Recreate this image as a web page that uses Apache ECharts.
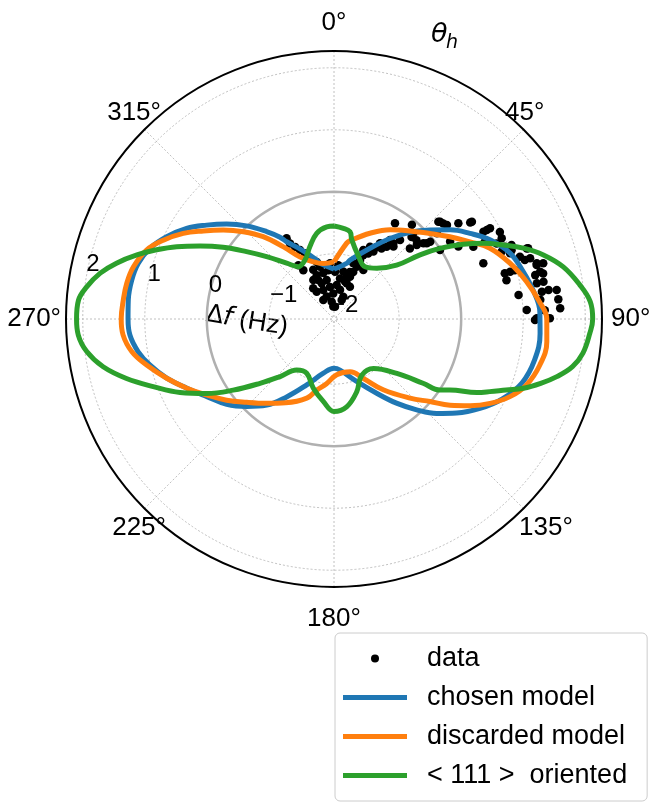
<!DOCTYPE html>
<html>
<head>
<meta charset="utf-8">
<script src="https://cdn.jsdelivr.net/npm/echarts@6.0.0/dist/echarts.min.js"></script>
<style>
  html, body { margin: 0; padding: 0; background: #fff; }
  #main { width: 650px; height: 802px; }
</style>
</head>
<body>
<div id="main"></div>
<script>
// angles in degrees (clockwise from top), radial values in Hz
var blueTheta = [0, 12.8, 15.2, 27, 34.8, 41.2, 47.2, 52.5, 57.8, 63.1, 69.5, 76, 82.2, 88, 94, 101.5, 108.8, 115.5, 121.5, 127.5, 132.6, 137.7, 143.4, 150.1, 160.1, 173.3, 180,
                 191.1, 202.5, 211.3, 218, 224.9, 231.5, 238.6, 244.8, 250.5, 256, 260.5, 265.5, 270, 275.3, 280.9, 285.9, 291, 296.2, 301.6, 306.4, 311.5, 316.8, 322.4, 326.6, 328.5, 334.9, 343.7, 345.9, 360];
var blueR = [-1.245, -1.13, -1.065, -0.77, -0.47, -0.19, 0.06, 0.31, 0.54, 0.77, 0.98, 1.095, 1.2, 1.27, 1.28, 1.25, 1.15, 0.95, 0.71, 0.44, 0.2, -0.07, -0.36, -0.67, -0.98, -1.22, -1.255,
             -1.16, -0.9, -0.58, -0.29, -0.06, 0.16, 0.35, 0.57, 0.81, 1.01, 1.15, 1.25, 1.27, 1.28, 1.27, 1.23, 1.13, 0.955, 0.74, 0.5, 0.26, 0.01, -0.27, -0.47, -0.59, -0.82, -1.06, -1.125, -1.245];

var orangeTheta = [0, 9.5, 11.7, 22.8, 32.2, 40.8, 48.2, 54.6, 60.4, 65.6, 72.4, 79, 85.1, 90, 96.1, 102.6, 108.9, 113.8, 118.4, 122.5, 126.6, 130.7, 136.1, 145.2, 153.7, 163.1, 177.2,
                   186.6, 193.7, 199, 210, 218.6, 226.3, 232.9, 239.2, 244.8, 250.5, 256.2, 260.8, 265.7, 270, 275.2, 279.8, 284.6, 290.2, 294.8, 299.6, 304, 308.8, 313.9, 319.3, 325, 331.4, 340.1, 349.1, 360];
var orangeR = [-1.13, -0.81, -0.76, -0.55, -0.35, -0.175, 0.02, 0.24, 0.47, 0.71, 0.925, 1.11, 1.27, 1.38, 1.4, 1.35, 1.23, 1.05, 0.81, 0.55, 0.28, -0.01, -0.28, -0.66, -0.98, -1.16, -1.15,
               -1.0, -0.87, -0.7, -0.49, -0.31, -0.105, 0.12, 0.34, 0.57, 0.81, 1.06, 1.25, 1.36, 1.38, 1.36, 1.34, 1.29, 1.17, 0.98, 0.745, 0.49, 0.24, -0.02, -0.3, -0.63, -0.91, -1.07, -1.14, -1.13];

var greenTheta = [0, 5.9, 10.4, 12.6, 21.1, 30.7, 40.1, 49.3, 53.3, 56.3, 60, 63.1, 66.4, 69.5, 73, 77.2, 82.1, 86.1, 90, 93.2, 97.8, 101.3, 104.5, 107.3, 110.1, 112.4, 115, 117.2, 121.5, 123.8, 125.8, 130.9, 141.4, 153.7, 162.7, 171.8, 180,
                  187.4, 196.6, 206.7, 216.2, 223.1, 229, 234.8, 239.7, 244.5, 249.5, 254, 258.3, 262.5, 266.4, 270, 274.2, 277.4, 281.1, 284.4, 288, 291.3, 294.7, 298.6, 302.9, 307.6, 312.8, 319.7, 325.7, 333.8, 341.6, 348.6, 355.5, 360];
var greenR = [-0.55, -0.58, -0.62, -0.74, -0.96, -1.07, -0.98, -0.72, -0.32, 0.0, 0.36, 0.65, 0.93, 1.21, 1.48, 1.74, 1.95, 2.09, 2.12, 2.08, 2.0, 1.87, 1.66, 1.44, 1.2, 0.95, 0.72, 0.54, 0.14, 0.01, -0.28, -0.71, -1.03, -1.04, -0.82, -0.62, -0.56,
              -0.71, -0.885, -1.07, -1.03, -0.78, -0.47, -0.06, 0.33, 0.7, 1.06, 1.43, 1.75, 1.97, 2.08, 2.1, 2.08, 1.97, 1.79, 1.57, 1.29, 1.02, 0.74, 0.41, 0.08, -0.27, -0.57, -0.87, -1.03, -0.99, -0.82, -0.64, -0.56, -0.55];

var dataTheta = [47, 50.2, 52.4, 54.7, 59.7, 59.8, 62.3, 62.9, 65.1, 68.1, 67.4, 69.5, 69.5, 77.3, 75, 69.9, 72.8, 72.8, 75.1, 75.1, 77.7, 77.1, 79.9, 80, 82.5, 82.3, 82.6, 84.7, 85, 87.3, 87.3, 87.6, 89.8, 89.8, 82.6,
                 32.5, 47.5, 54.8, 51.2, 49.7, 48.2, 47.1, 39.9, 39.4, 35.3, 34, 30.3, 26.5, 23, 23.2, 23.5, 22.2, 30.9, 20.7, 16.4, 56.3, 59.8, 62.6, 56.9, 43.4, 59.8, 64.3, 68.8, 75, 74.9, 90.3,
                 77.7, 74.6, 70, 71.5, 67.1,
                 329.8, 331.7, 333.8, 336.2, 338.4, 343.2, 345, 346.8, 338, 349.4, 326, 339.7, 352.9, 358.4, 341.9, 352.4, 4.5, 8.4, 16.7, 18.7, 11.1, 4.6, 355.9, 19.1, 23.8, 24.6, 27.6, 28.1,
                 30.6, 31.3, 36.1, 38.1, 39.6, 42.8, 46.3, 50.8, 50.2, 48.8, 19.6, 11.7, 1.2, 353.4, 338.5, 337.1, 341, 22, 356.7, 329.6, 327.6, 330.6, 4.6, 332, 22.6, 26.3, 327.9, 326.5];
var dataR = [0.25, 0.32, 0.48, 0.64, 0.74, 0.86, 0.97, 0.68, 0.84, 0.86, 1.05, 0.98, 0.52, 0.8, 0.89, 1.26, 1.17, 1.26, 1.33, 1.44, 1.27, 1.36, 1.38, 1.27, 1.33, 1.44, 0.95, 1.29, 1.58, 1.6, 1.06, 1.35, 1.43, 1.22, 1.57,
             -0.22, 0.27, 0.67, -0.06, -0.16, -0.26, -0.38, -0.39, -0.54, -0.49, -0.68, -0.79, -0.75, -0.84, -0.99, -1.13, -1.23, -1.13, -1.32, -1.42, 0.2, 0.27, 0.48, -0.01, -0.23, 0.8, 0.95, 1.02, 0.8, 0.97, 1.19,
             1.4, 1.34, 1.28, 1.11, 0.94,
             -0.64, -0.73, -0.81, -0.89, -1.0, -1.09, -1.18, -1.29, -1.37, -1.41, -1.45, -1.55, -1.53, -1.64, -1.67, -1.77, -1.5, -1.39, -1.34, -1.25, -1.27, -1.18, -1.15, -1.1, -1.01, -0.92, -0.86, -0.76,
             -0.7, -0.62, -0.61, -0.5, -0.08, -0.17, -0.21, -0.12, 0.11, 0.29, -1.44, -1.57, -1.29, -1.26, -1.29, -1.19, -1.44, -1.72, -1.85, -0.54, -1.53, -1.7, -1.85, -1.34, -1.66, -1.47, -1.12, -1.01];

var angleTicks = [0, 45, 90, 135, 180, 225, 270, 315];
var rMin = -2.05, rMax = 2.27;

function pairs(th, r) {
  return th.map(function (t, i) { return [r[i], t]; });
}

// reference circle at 0 Hz
var zeroCircle = [];
for (var a = 0; a <= 360; a += 5) zeroCircle.push([0, a]);

var chart = echarts.init(document.getElementById('main'));
var font = 'Liberation Sans, Arial, sans-serif';

// nudge each angle label towards where matplotlib centres it
var labelPad = {
  0: [0, 0, 10, 0], 45: [0, 0, 0, -22], 90: [0, 0, 0, 4], 135: [3, 0, 0, -8],
  180: [14, 0, 0, 0], 225: [3, -25, 0, 0], 270: [0, 0, 0, 0], 315: [0, -20, 0, 0]
};
var angleRich = {};
angleTicks.forEach(function (t) {
  angleRich['a' + t] = { fontSize: 26, fontFamily: font, color: '#000', padding: labelPad[t] };
});

var lineIcon = 'path://M0,0 H64 V5 H0 Z';

chart.setOption({
  animation: false,
  backgroundColor: '#fff',
  polar: [
    { center: [334, 319], radius: 268 },
    { center: [334, 319], radius: 268 }
  ],
  angleAxis: [{
    polarIndex: 0, type: 'value', min: 0, max: 360, interval: 45,
    startAngle: 90, clockwise: true,
    axisLine: { lineStyle: { color: '#000', width: 2 } },
    axisTick: { show: false },
    axisLabel: {
      margin: 5, fontSize: 26, color: '#000', fontFamily: font, rich: angleRich,
      formatter: function (v) { return angleTicks.indexOf(v) >= 0 ? '{a' + v + '|' + v + '°}' : ''; }
    },
    splitLine: { lineStyle: { color: '#b0b0b0', type: [2, 2], width: 0.8 } },
    z: 1
  }, {
    polarIndex: 1, type: 'value', min: 0, max: 360, startAngle: 170.5, show: false
  }],
  radiusAxis: [{
    polarIndex: 0, type: 'value', min: rMin, max: rMax,
    axisLine: { show: false }, axisTick: { show: false }, axisLabel: { show: false },
    splitLine: { lineStyle: { color: '#b0b0b0', type: [2, 2], width: 0.8 } },
    z: 1
  }, {
    polarIndex: 1, type: 'value', min: rMin, max: rMax,
    axisLine: { show: false }, axisTick: { show: false }, splitLine: { show: false },
    axisLabel: {
      margin: -1, fontSize: 24, color: '#000', fontFamily: font,
      align: 'left', verticalAlign: 'bottom',
      formatter: function (v) {
        if (Math.abs(v - Math.round(v)) > 1e-6) return '';
        return String(Math.round(v)).replace('-', '\u2212');
      }
    },
    z: 5
  }],
  legend: {
    orient: 'vertical', left: 335, top: 633,
    data: [
      { name: 'data', icon: 'circle' },
      { name: 'chosen model', icon: lineIcon },
      { name: 'discarded model', icon: lineIcon },
      { name: '< 111 >  oriented', icon: lineIcon }
    ],
    itemWidth: 64, itemHeight: 8, itemGap: 12, symbolKeepAspect: true,
    padding: [12, 20, 12, 8],
    borderColor: '#cccccc', borderWidth: 1, borderRadius: 5, backgroundColor: '#fff',
    textStyle: { fontSize: 27, color: '#000', fontFamily: font, padding: [0, 0, 0, 15] }
  },
  graphic: [
    { type: 'text', x: 431, y: 21, style: { text: 'θ', fontSize: 27, fontStyle: 'italic', fontFamily: 'DejaVu Sans', fill: '#000' } },
    { type: 'text', x: 446, y: 34, style: { text: 'h', fontSize: 19, fontStyle: 'italic', fontFamily: 'DejaVu Sans', fill: '#000' } },
    { type: 'text', x: 247, y: 321, rotation: -0.16,
      style: { text: '{d|Δ}{i|f}{n| (Hz)}', align: 'center', verticalAlign: 'middle',
        rich: { d: { fontSize: 25, fontFamily: 'DejaVu Sans', fill: '#000' },
                i: { fontSize: 26, fontStyle: 'italic', fontFamily: 'DejaVu Sans', fill: '#000' },
                n: { fontSize: 26, fontFamily: font, fill: '#000' } } } }
  ],
  series: [
    { type: 'line', coordinateSystem: 'polar', polarIndex: 0, data: zeroCircle, symbol: 'none', smooth: true,
      silent: true, lineStyle: { color: '#b0b0b0', width: 2.5 }, z: 1 },
    { name: 'data', type: 'scatter', coordinateSystem: 'polar', polarIndex: 0, data: pairs(dataTheta, dataR),
      symbolSize: 8.5, itemStyle: { color: '#000', opacity: 1 }, z: 2 },
    { name: 'chosen model', type: 'line', coordinateSystem: 'polar', polarIndex: 0, data: pairs(blueTheta, blueR),
      symbol: 'none', smooth: 0.4, lineStyle: { color: '#1f77b4', width: 5 }, itemStyle: { color: '#1f77b4' }, z: 3 },
    { name: 'discarded model', type: 'line', coordinateSystem: 'polar', polarIndex: 0, data: pairs(orangeTheta, orangeR),
      symbol: 'none', smooth: 0.4, lineStyle: { color: '#ff7f0e', width: 5 }, itemStyle: { color: '#ff7f0e' }, z: 4 },
    { name: '< 111 >  oriented', type: 'line', coordinateSystem: 'polar', polarIndex: 0, data: pairs(greenTheta, greenR),
      symbol: 'none', smooth: 0.4, lineStyle: { color: '#2ca02c', width: 5 }, itemStyle: { color: '#2ca02c' }, z: 5 }
  ]
});
</script>
</body>
</html>
